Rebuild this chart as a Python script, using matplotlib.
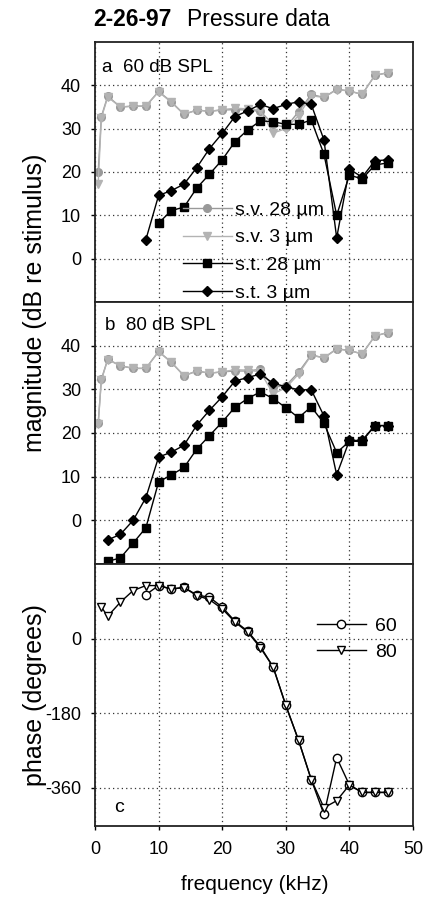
import matplotlib
matplotlib.use("Agg")
import matplotlib.pyplot as plt
from matplotlib.lines import Line2D

plt.rcParams['font.family'] = ['Liberation Sans', 'DejaVu Sans']
plt.rcParams['axes.unicode_minus'] = False

# ---------------- data ----------------
freq_sv = [0.5, 1, 2, 4, 6, 8, 10, 12, 14, 16, 18, 20, 22, 24, 26, 28, 30, 32, 34, 36, 38, 40, 42, 44, 46]
a_sv28 = [19.9, 32.8, 37.5, 35.0, 35.2, 35.2, 38.6, 36.2, 33.3, 34.3, 34.0, 34.3, 34.4, 34.3, 34.0, 31.0, 30.3, 33.9, 37.9, 37.2, 39.1, 38.7, 37.9, 42.3, 42.9]
a_sv3 = [17.2, 32.5, 37.3, 35.0, 35.2, 35.2, 38.5, 36.1, 33.3, 34.3, 34.0, 34.4, 34.7, 34.6, 34.2, 29.0, 30.0, 33.0, 37.6, 37.2, 39.0, 38.7, 37.9, 42.3, 42.9]
freq_st28_a = [10, 12, 14, 16, 18, 20, 22, 24, 26, 28, 30, 32, 34, 36, 38, 40, 42, 44, 46]
a_st28 = [8.2, 11.1, 11.9, 16.3, 19.5, 22.8, 27.0, 29.7, 31.8, 31.6, 31.0, 31.0, 32.0, 24.1, 10.0, 19.3, 18.4, 21.6, 22.1]
freq_st3_a = [8, 10, 12, 14, 16, 18, 20, 22, 24, 26, 28, 30, 32, 34, 36, 38, 40, 42, 44, 46]
a_st3 = [4.4, 14.6, 15.7, 17.2, 21.0, 25.4, 28.9, 32.8, 34.1, 35.6, 34.6, 35.6, 36.2, 35.6, 27.4, 4.8, 20.7, 18.8, 22.6, 22.8]

b_sv28 = [22.2, 32.3, 36.9, 35.4, 34.8, 34.8, 38.7, 36.2, 33.1, 34.2, 33.7, 34.0, 34.2, 34.2, 34.6, 30.5, 30.8, 33.9, 37.9, 37.2, 39.3, 38.9, 38.1, 42.2, 43.0]
b_sv3 = [22.0, 32.1, 36.8, 35.4, 34.8, 34.8, 38.6, 36.2, 33.1, 34.2, 33.7, 34.0, 34.5, 34.4, 34.0, 29.0, 30.3, 33.5, 37.8, 37.2, 39.2, 38.9, 38.1, 42.2, 43.0]
freq_st_b = [2, 4, 6, 8, 10, 12, 14, 16, 18, 20, 22, 24, 26, 28, 30, 32, 34, 36, 38, 40, 42, 44, 46]
b_st28 = [-9.4, -8.6, -5.2, -1.7, 8.8, 10.4, 12.1, 16.3, 19.4, 22.5, 25.9, 27.9, 29.4, 27.9, 25.8, 23.5, 26.0, 22.2, 15.5, 18.1, 18.1, 21.7, 21.7]
b_st3 = [-4.5, -3.2, 0.0, 5.2, 14.5, 15.6, 17.2, 21.8, 25.2, 28.3, 31.9, 32.7, 33.5, 31.4, 30.6, 29.9, 29.9, 23.9, 10.4, 18.3, 18.3, 21.7, 21.7]

freq_ph80 = [1, 2, 4, 6, 8, 10, 12, 14, 16, 18, 20, 22, 24, 26, 28, 30, 32, 34, 36, 38, 40, 42, 44, 46]
ph80 = [76, 54, 88, 116, 128, 128, 120, 123, 104, 94, 72, 40, 16, -22, -68, -161, -245, -340, -408, -391, -353, -371, -371, -371]
freq_ph60 = [8, 10, 12, 14, 16, 18, 20, 22, 24, 26, 28, 30, 32, 34, 36, 38, 40, 42, 44, 46]
ph60 = [106, 128, 119, 124, 105, 100, 76, 42, 18, -19, -68, -161, -245, -340, -424, -287, -353, -371, -371, -371]

mag_ticks = [0, 10, 20, 30, 40]
phase_ticks = [0, -180, -360]
x_ticks = [0, 10, 20, 30, 40, 50]
legend_mag = ['s.v. 28 \u00b5m', 's.v. 3 \u00b5m', 's.t. 28 \u00b5m', 's.t. 3 \u00b5m']
legend_phase = ['60', '80']

# ---------------- layout ----------------
W, H = 427, 909
fig = plt.figure(figsize=(W / 100, H / 100), dpi=100)

def px_axes(left, top, right, bottom):
    return fig.add_axes([left / W, 1 - bottom / H, (right - left) / W, (bottom - top) / H])

L, R = 95, 413
ax_a = px_axes(L, 42, R, 302)
ax_b = px_axes(L, 302, R, 564)
ax_c = px_axes(L, 564, R, 826)

GRAY1 = '#999999'
GRAY2 = '#b3b3b3'
FS = 13

for ax in (ax_a, ax_b, ax_c):
    ax.set_xlim(0, 50)
    ax.set_xticks(x_ticks)
    ax.grid(True, linestyle=(0, (1, 2.5)), color='#333333', linewidth=0.9)
    ax.tick_params(axis='both', labelsize=FS, direction='out', length=3, width=1, pad=7)
    for s in ax.spines.values():
        s.set_linewidth(1.3)
        s.set_color('#222222')
    ax.set_axisbelow(True)

for ax in (ax_a, ax_b):
    ax.tick_params(axis='x', labelbottom=False, length=0)
    ax.set_ylim(-10, 50)
    ax.set_yticks(mag_ticks)

ax_c.set_ylim(-452, 180)
ax_c.set_yticks(phase_ticks)
ax_c.tick_params(axis='x', pad=8)

def mag_panel(ax, sv28, sv3, f28, st28, f3, st3):
    ax.plot(freq_sv, sv28, color=GRAY1, lw=1, marker='o', ms=5.5, mec=GRAY1, mfc=GRAY1)
    ax.plot(freq_sv, sv3, color=GRAY2, lw=1, marker='v', ms=5.5, mec=GRAY2, mfc=GRAY2)
    ax.plot(f28, st28, color='black', lw=1, marker='s', ms=5.4)
    ax.plot(f3, st3, color='black', lw=1, marker='D', ms=5.2)

mag_panel(ax_a, a_sv28, a_sv3, freq_st28_a, a_st28, freq_st3_a, a_st3)
mag_panel(ax_b, b_sv28, b_sv3, freq_st_b, b_st28, freq_st_b, b_st3)

ax_c.plot(freq_ph60, ph60, color='black', lw=1, marker='o', ms=6, mfc='white', mec='black', mew=1)
ax_c.plot(freq_ph80, ph80, color='black', lw=1, marker='v', ms=6, mfc='white', mec='black', mew=1)

# legends
h_mag = [Line2D([], [], color=GRAY1, lw=1, marker='o', ms=5.5, mfc=GRAY1, mec=GRAY1),
         Line2D([], [], color=GRAY2, lw=1, marker='v', ms=5.5, mfc=GRAY2, mec=GRAY2),
         Line2D([], [], color='black', lw=1, marker='s', ms=5.4),
         Line2D([], [], color='black', lw=1, marker='D', ms=5.2)]
ax_a.legend(h_mag, legend_mag, loc='upper left', bbox_to_anchor=(183 / W, 1 - 201 / H),
            bbox_transform=fig.transFigure, frameon=False, fontsize=14,
            handlelength=2.5, handletextpad=0.2, labelspacing=0.52, borderpad=0, borderaxespad=0)

h_ph = [Line2D([], [], color='black', lw=1, marker='o', ms=6, mfc='white', mec='black'),
        Line2D([], [], color='black', lw=1, marker='v', ms=6, mfc='white', mec='black')]
ax_c.legend(h_ph, legend_phase, loc='upper left', bbox_to_anchor=(317 / W, 1 - 617 / H),
            bbox_transform=fig.transFigure, frameon=False, fontsize=14,
            handlelength=2.5, handletextpad=0.5, labelspacing=0.45, borderpad=0, borderaxespad=0)

# panel labels
fig.text(102 / W, 1 - 68 / H, 'a  60 dB SPL', fontsize=13.5, va='center', ha='left')
fig.text(105 / W, 1 - 325 / H, 'b  80 dB SPL', fontsize=13.5, va='center', ha='left')
fig.text(114 / W, 1 - 808 / H, 'c', fontsize=14, va='center', ha='left')

# title
fig.text(93 / W, 1 - 20 / H, '2-26-97', fontsize=16.5, fontweight='bold', va='center', ha='left')
fig.text(187 / W, 1 - 20 / H, 'Pressure data', fontsize=16.5, va='center', ha='left')

# axis labels
fig.text(35 / W, 1 - 303 / H, 'magnitude (dB re stimulus)', fontsize=18, rotation=90, va='center', ha='center')
fig.text(35 / W, 1 - 695 / H, 'phase (degrees)', fontsize=18, rotation=90, va='center', ha='center')
fig.text(255 / W, 1 - 885 / H, 'frequency (kHz)', fontsize=15, va='center', ha='center')

fig.savefig('out.png', dpi=100)
